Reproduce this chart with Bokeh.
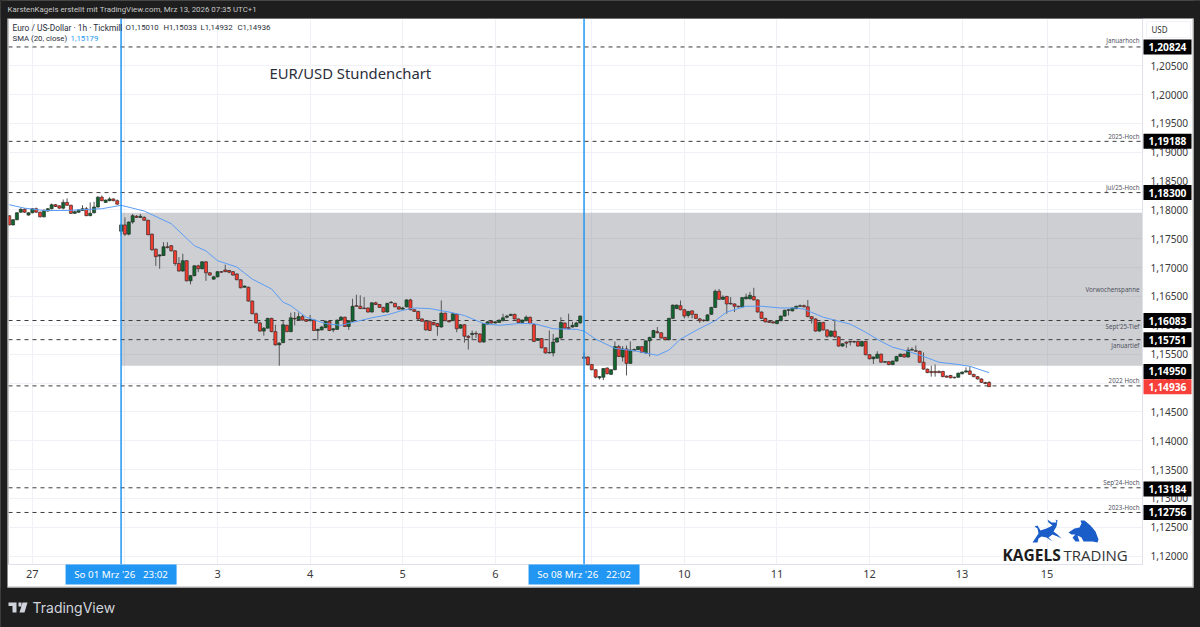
from bokeh.embed import file_html
from bokeh.resources import INLINE
from bokeh.plotting import figure
from bokeh.layouts import column
from bokeh.models import (Range1d, FixedTicker, Label, Span, GlobalInlineStyleSheet)

# ---------- data ----------
opens = [
 1.1790,1.1774,1.1783,1.1796,1.1801,1.1791,1.1795,1.1802,1.1796,1.1788,
 1.1798,1.1802,1.1809,1.1807,1.1803,1.1813,1.1808,1.1794,1.1796,1.1799,
 1.1802,1.1790,1.1795,1.1805,1.1822,1.1813,1.1816,1.1819,1.1816,1.1763,
 1.1774,1.1758,1.1779,1.1789,1.1787,1.1787,1.1782,1.1758,1.1732,1.1720,
 1.1721,1.1736,1.1738,1.1729,1.1707,1.1694,1.1712,1.1677,1.1686,1.1703,
 1.1698,1.1710,1.1691,1.1680,1.1684,1.1693,1.1696,1.1695,1.1693,1.1689,
 1.1679,1.1666,1.1666,1.1642,1.1620,1.1604,1.1590,1.1595,1.1612,1.1589,
 1.1566,1.1570,1.1600,1.1589,1.1612,1.1610,1.1615,1.1610,1.1608,1.1609,
 1.1591,1.1592,1.1596,1.1607,1.1592,1.1593,1.1609,1.1614,1.1598,1.1607,
 1.1634,1.1633,1.1630,1.1630,1.1623,1.1639,1.1636,1.1631,1.1623,1.1639,
 1.1638,1.1632,1.1628,1.1632,1.1644,1.1627,1.1624,1.1611,1.1607,1.1607,
 1.1605,1.1603,1.1597,1.1621,1.1608,1.1608,1.1619,1.1595,1.1601,1.1581,
 1.1584,1.1586,1.1585,1.1571,1.1602,1.1607,1.1604,1.1605,1.1608,1.1614,
 1.1617,1.1619,1.1611,1.1605,1.1608,1.1614,1.1601,1.1574,1.1577,1.1561,
 1.1552,1.1552,1.1571,1.1578,1.1604,1.1596,1.1597,1.1598,1.1604,1.1545,
 1.1545,1.1532,1.1523,1.1509,1.1510,1.1526,1.1515,1.1523,1.1563,1.1545,
 1.1559,1.1534,1.1556,1.1558,1.1563,1.1552,1.1573,1.1579,1.1589,1.1587,
 1.1579,1.1575,1.1612,1.1629,1.1634,1.1627,1.1617,1.1625,1.1619,1.1611,
 1.1609,1.1608,1.1619,1.1631,1.1659,1.1645,1.1650,1.1638,1.1637,1.1633,
 1.1632,1.1646,1.1646,1.1650,1.1644,1.1623,1.1612,1.1607,1.1606,1.1603,
 1.1608,1.1616,1.1626,1.1625,1.1629,1.1633,1.1634,1.1632,1.1615,1.1611,
 1.1590,1.1605,1.1592,1.1581,1.1590,1.1580,1.1564,1.1571,1.1572,1.1572,
 1.1572,1.1564,1.1572,1.1549,1.1542,1.1543,1.1550,1.1536,1.1537,1.1532,
 1.1538,1.1546,1.1550,1.1545,1.1557,1.1556,1.1555,1.1536,1.1524,1.1520,
 1.1520,1.1520,1.1520,1.1512,1.1513,1.1510,1.1510,1.1516,1.1519,1.1521,
 1.1515,1.1511,1.1507,1.1501,1.15010]
closes = [
 1.1774,1.1783,1.1795,1.1801,1.1796,1.1795,1.1802,1.1796,1.1788,1.1799,
 1.1802,1.1809,1.1806,1.1803,1.1813,1.1808,1.1794,1.1797,1.1800,1.1802,
 1.1790,1.1794,1.1805,1.1822,1.1816,1.1817,1.1819,1.1816,1.1810,1.1774,
 1.1758,1.1779,1.1790,1.1787,1.1789,1.1782,1.1757,1.1731,1.1719,1.1722,
 1.1736,1.1735,1.1729,1.1707,1.1694,1.1712,1.1677,1.1686,1.1703,1.1698,
 1.1710,1.1691,1.1687,1.1684,1.1693,1.1692,1.1693,1.1692,1.1687,1.1679,
 1.1665,1.1668,1.1642,1.1620,1.1604,1.1590,1.1595,1.1612,1.1589,1.1566,
 1.1569,1.1601,1.1589,1.1613,1.1611,1.1615,1.1609,1.1607,1.1610,1.1591,
 1.1593,1.1597,1.1607,1.1591,1.1594,1.1609,1.1614,1.1598,1.1608,1.1633,
 1.1633,1.1629,1.1629,1.1623,1.1639,1.1636,1.1631,1.1623,1.1638,1.1640,
 1.1632,1.1628,1.1630,1.1644,1.1627,1.1624,1.1611,1.1607,1.1592,1.1591,
 1.1601,1.1598,1.1621,1.1608,1.1606,1.1620,1.1594,1.1601,1.1581,1.1579,
 1.1586,1.1585,1.1571,1.1603,1.1606,1.1604,1.1606,1.1609,1.1613,1.1616,
 1.1619,1.1611,1.1605,1.1609,1.1614,1.1603,1.1572,1.1577,1.1561,1.1552,
 1.1553,1.1571,1.1578,1.1605,1.1595,1.1594,1.1600,1.1604,1.1616,1.1543,
 1.1532,1.1523,1.1510,1.1511,1.1525,1.1516,1.1523,1.1563,1.1546,1.1559,
 1.1534,1.1557,1.1558,1.1563,1.1553,1.1573,1.1579,1.1591,1.1587,1.1578,
 1.1575,1.1612,1.1635,1.1635,1.1627,1.1616,1.1624,1.1619,1.1612,1.1608,
 1.1608,1.1618,1.1631,1.1659,1.1645,1.1649,1.1637,1.1637,1.1633,1.1632,
 1.1648,1.1649,1.1652,1.1644,1.1623,1.1612,1.1606,1.1605,1.1604,1.1608,
 1.1616,1.1626,1.1627,1.1630,1.1633,1.1634,1.1632,1.1615,1.1611,1.1590,
 1.1605,1.1592,1.1581,1.1590,1.1580,1.1564,1.1568,1.1569,1.1571,1.1571,
 1.1564,1.1572,1.1549,1.1542,1.1545,1.1550,1.1536,1.1537,1.1532,1.1538,
 1.1546,1.1550,1.1545,1.1557,1.1558,1.1555,1.1536,1.1524,1.1518,1.1518,
 1.1518,1.1518,1.1511,1.1510,1.1509,1.1509,1.1517,1.1519,1.1521,1.1515,
 1.1511,1.1507,1.1501,1.1499,1.14936]
highs = [
 1.1791,1.1784,1.1796,1.1803,1.1803,1.1796,1.1803,1.1804,1.1797,1.1801,
 1.1803,1.1811,1.1810,1.1808,1.1818,1.1820,1.1809,1.1798,1.1801,1.1808,
 1.1805,1.1813,1.1814,1.1824,1.1825,1.1818,1.1822,1.1820,1.1818,1.1776,
 1.1787,1.1780,1.1793,1.1791,1.1793,1.1789,1.1783,1.1759,1.1733,1.1723,
 1.1744,1.1744,1.1739,1.1730,1.1718,1.1724,1.1713,1.1687,1.1704,1.1705,
 1.1711,1.1711,1.1692,1.1686,1.1694,1.1694,1.1705,1.1696,1.1694,1.1690,
 1.1680,1.1669,1.1667,1.1643,1.1622,1.1606,1.1597,1.1613,1.1613,1.1601,
 1.1571,1.1608,1.1601,1.1622,1.1623,1.1622,1.1618,1.1611,1.1618,1.1610,
 1.1594,1.1599,1.1608,1.1608,1.1595,1.1610,1.1616,1.1615,1.1609,1.1646,
 1.1653,1.1652,1.1649,1.1631,1.1640,1.1641,1.1637,1.1632,1.1639,1.1642,
 1.1639,1.1633,1.1632,1.1645,1.1646,1.1628,1.1625,1.1612,1.1608,1.1608,
 1.1606,1.1604,1.1643,1.1622,1.1609,1.1622,1.1620,1.1602,1.1602,1.1583,
 1.1591,1.1590,1.1586,1.1604,1.1607,1.1608,1.1607,1.1610,1.1620,1.1618,
 1.1620,1.1620,1.1612,1.1610,1.1617,1.1615,1.1602,1.1578,1.1578,1.1562,
 1.1591,1.1585,1.1579,1.1614,1.1605,1.1620,1.1606,1.1606,1.1617,1.1553,
 1.1546,1.1533,1.1524,1.1512,1.1526,1.1527,1.1524,1.1572,1.1566,1.1564,
 1.1565,1.1572,1.1560,1.1564,1.1564,1.1574,1.1580,1.1592,1.1597,1.1588,
 1.1580,1.1613,1.1636,1.1636,1.1643,1.1628,1.1625,1.1626,1.1620,1.1613,
 1.1610,1.1619,1.1632,1.1662,1.1663,1.1652,1.1651,1.1649,1.1638,1.1634,
 1.1649,1.1655,1.1658,1.1665,1.1645,1.1624,1.1613,1.1608,1.1607,1.1609,
 1.1617,1.1627,1.1628,1.1631,1.1634,1.1636,1.1636,1.1644,1.1616,1.1612,
 1.1606,1.1606,1.1593,1.1591,1.1610,1.1581,1.1569,1.1572,1.1573,1.1573,
 1.1573,1.1573,1.1573,1.1550,1.1546,1.1555,1.1551,1.1538,1.1538,1.1539,
 1.1547,1.1551,1.1551,1.1562,1.1562,1.1565,1.1556,1.1553,1.1525,1.1530,
 1.1532,1.1522,1.1521,1.1513,1.1514,1.1511,1.1518,1.1520,1.1527,1.1528,
 1.1516,1.1512,1.1508,1.1502,1.15033]
lows = [
 1.1773,1.1773,1.1782,1.1795,1.1795,1.1790,1.1794,1.1795,1.1787,1.1787,
 1.1797,1.1801,1.1805,1.1802,1.1801,1.1807,1.1793,1.1793,1.1795,1.1798,
 1.1789,1.1789,1.1794,1.1804,1.1815,1.1812,1.1815,1.1815,1.1809,1.1756,
 1.1755,1.1756,1.1776,1.1786,1.1786,1.1781,1.1756,1.1729,1.1703,1.1698,
 1.1720,1.1733,1.1728,1.1703,1.1693,1.1693,1.1676,1.1671,1.1685,1.1692,
 1.1697,1.1677,1.1686,1.1679,1.1683,1.1691,1.1692,1.1690,1.1686,1.1678,
 1.1664,1.1665,1.1641,1.1619,1.1603,1.1589,1.1582,1.1594,1.1588,1.1565,
 1.1530,1.1569,1.1588,1.1588,1.1600,1.1609,1.1608,1.1606,1.1607,1.1590,
 1.1574,1.1591,1.1595,1.1590,1.1588,1.1592,1.1608,1.1597,1.1592,1.1606,
 1.1632,1.1628,1.1628,1.1622,1.1622,1.1635,1.1630,1.1622,1.1622,1.1638,
 1.1631,1.1627,1.1627,1.1631,1.1626,1.1623,1.1609,1.1606,1.1591,1.1590,
 1.1600,1.1582,1.1596,1.1607,1.1605,1.1607,1.1588,1.1594,1.1570,1.1558,
 1.1574,1.1578,1.1570,1.1570,1.1601,1.1603,1.1603,1.1604,1.1607,1.1612,
 1.1616,1.1610,1.1604,1.1604,1.1607,1.1602,1.1571,1.1573,1.1560,1.1551,
 1.1551,1.1546,1.1570,1.1577,1.1594,1.1593,1.1596,1.1597,1.1603,1.1542,
 1.1530,1.1522,1.1508,1.1506,1.1505,1.1515,1.1514,1.1522,1.1545,1.1537,
 1.1513,1.1533,1.1555,1.1557,1.1552,1.1551,1.1546,1.1578,1.1586,1.1577,
 1.1574,1.1574,1.1611,1.1628,1.1626,1.1612,1.1613,1.1612,1.1611,1.1604,
 1.1606,1.1607,1.1618,1.1630,1.1644,1.1644,1.1620,1.1636,1.1623,1.1631,
 1.1631,1.1645,1.1645,1.1643,1.1622,1.1611,1.1605,1.1604,1.1603,1.1602,
 1.1607,1.1615,1.1617,1.1624,1.1628,1.1632,1.1631,1.1614,1.1603,1.1589,
 1.1589,1.1591,1.1578,1.1580,1.1578,1.1563,1.1563,1.1561,1.1565,1.1569,
 1.1563,1.1563,1.1548,1.1541,1.1533,1.1542,1.1535,1.1535,1.1531,1.1531,
 1.1537,1.1545,1.1544,1.1544,1.1556,1.1554,1.1535,1.1523,1.1517,1.1511,
 1.1511,1.1517,1.1510,1.1509,1.1508,1.1508,1.1509,1.1515,1.1518,1.1514,
 1.1510,1.1506,1.1500,1.1498,1.14932]

sma_bars = [0,4,9,15,24,29,35,42,48,51,54,59,63,68,71,73,77,82,86,89,94,98,102,105,109,114,118,
            123,127,132,136,141,147,149,152,157,162,168,171,174,178,183,186,191,195,200,204,
            206,211,218,222,226,229,233,237,241,246,249,254]
sma_vals = [1.1809,1.1803,1.1799,1.1799,1.1802,1.1808,1.1798,1.1776,1.1738,1.1729,1.1712,1.1701,
            1.1680,1.1663,1.1640,1.1634,1.1614,1.1603,1.1600,1.1605,1.1613,1.1618,1.1626,1.1630,
            1.1629,1.1623,1.1617,1.1603,1.1600,1.1603,1.1603,1.1594,1.1593,1.1590,1.1576,1.1560,
            1.1556,1.1548,1.1557,1.1576,1.1591,1.1608,1.1623,1.1633,1.1633,1.1630,1.1630,
            1.1628,1.1614,1.1602,1.1588,1.1572,1.1562,1.1555,1.1546,1.1536,1.1532,1.1529,1.15179]

day_ticks = [6, 30, 54, 78, 102, 126, 151, 175, 199, 223, 247, 269]
day_labels = ["27", "", "3", "4", "5", "6", "", "10", "11", "12", "13", "15"]
session_bars = [29, 149]
session_labels = ["So 01 Mrz '26\u00a0\u00a0\u00a023:02", "So 08 Mrz '26\u00a0\u00a0\u00a022:02"]

price_ticks = [1.205,1.20,1.195,1.19,1.185,1.18,1.175,1.17,1.165,1.16,1.155,1.15,1.145,1.14,1.135,1.13,1.125,1.12]

level_vals = [1.20824, 1.19188, 1.18300, 1.16083, 1.15751, 1.14950, 1.13184, 1.12756]
level_names = ["Januarhoch", "2025-Hoch", "Jul/25-Hoch", "Sept'25-Tief", "Januartief", "2022 Hoch", "Sep'24-Hoch", "2023-Hoch"]
level_tags = ["1,20824", "1,19188", "1,18300", "1,16083", "1,15751", "1,14950", "1,13184", "1,12756"]
range_top, range_bottom = 1.1795, 1.1530

# ---------- geometry (page px <-> data) ----------
BAR_PX = 3.858
PX_PER_UNIT = 5770.0
FL, FR, FT, FB = 8, 1142, 18, 564
x_lo = (FL - 8.7) / BAR_PX
x_hi = (FR - 8.7) / BAR_PX
y_hi = 1.20 + (94 - FT) / PX_PER_UNIT
y_lo = 1.20 - (FB - 94) / PX_PER_UNIT
def px(x): return x_lo + (x - FL) / BAR_PX
def py(y): return y_hi - (y - FT) / PX_PER_UNIT

DARK = "#1e1e1e"
BLUE = "#2196f3"
TXT = "#2a2e39"
FONT = "Noto Sans"
SMALL = "Roboto"

p = figure(width=1200, height=627, frame_width=FR - FL, frame_height=FB - FT,
           x_range=Range1d(x_lo, x_hi), y_range=Range1d(y_lo, y_hi),
           y_axis_location="right", output_backend="svg", toolbar_location=None,
           min_border_left=FL, min_border_right=1200 - FR, min_border_top=FT,
           min_border_bottom=627 - FB, border_fill_color="white",
           background_fill_color="white", outline_line_color=None, frame_align=False)

p.xgrid.ticker = FixedTicker(ticks=day_ticks)
p.ygrid.ticker = FixedTicker(ticks=price_ticks)
p.xgrid.grid_line_color = "#eff1f6"
p.ygrid.grid_line_color = "#eff1f6"

ax = p.xaxis[0]
ax.ticker = FixedTicker(ticks=day_ticks)
ax.major_label_overrides = dict(zip(day_ticks, day_labels))
ax.major_tick_line_color = None
ax.minor_tick_line_color = None
ax.major_tick_out = 0
ax.major_tick_in = 0
ax.axis_line_color = "#dfe2ea"
ax.major_label_standoff = 5
ax.major_label_text_font = FONT
ax.major_label_text_font_size = "11px"
ax.major_label_text_color = "#3a3a3a"

ay = p.yaxis[0]
ay.ticker = FixedTicker(ticks=price_ticks)
ay.major_label_overrides = {t: f"{t:.5f}".replace(".", ",") for t in price_ticks}
ay.major_tick_line_color = None
ay.minor_tick_line_color = None
ay.major_tick_out = 0
ay.major_tick_in = 0
ay.axis_line_color = "#dfe2ea"
ay.major_label_standoff = 8
ay.major_label_text_font = FONT
ay.major_label_text_font_size = "10.2px"
ay.major_label_text_color = "#3a3a3a"
ay.major_label_text_baseline = "middle"

# previous-week range
p.quad(left=session_bars[0], right=x_hi, top=range_top, bottom=range_bottom,
       fill_color="#787b86", fill_alpha=0.36, line_color=None)

# levels
p.segment(x0=[x_lo] * len(level_vals), x1=[x_hi] * len(level_vals), y0=level_vals, y1=level_vals,
          line_color="#3c3c3c", line_width=1, line_dash="4 4")

# candles
idx = list(range(len(opens)))
up = [c >= o for o, c in zip(opens, closes)]
p.segment(x0=idx, x1=idx, y0=lows, y1=highs, line_color="#555555", line_width=1)
for flag, col in [(True, "#12662f"), (False, "#f23a2e")]:
    sel = [i for i in idx if up[i] == flag]
    p.vbar(x=sel, width=0.8, bottom=[min(opens[i], closes[i]) for i in sel],
           top=[max(opens[i], closes[i]) for i in sel],
           fill_color=col, line_color="#222222", line_width=0.6)

# SMA
p.line(sma_bars, sma_vals, line_color="#5b9cf6", line_width=1)

# session lines
for b in session_bars:
    p.add_layout(Span(location=b, dimension="height", line_color=BLUE, line_width=1.5))

# ---------- overlay canvas: same scales, but its plot area is the whole window ----------
ov = figure(width=1200, height=627, x_range=Range1d(px(0), px(1200)), y_range=Range1d(py(627), py(0)),
            x_axis_location=None, y_axis_location=None, output_backend="svg", toolbar_location=None,
            min_border=0, background_fill_alpha=0, border_fill_alpha=0, outline_line_color=None,
            css_classes=["ovl"], frame_align=False,
            styles={"position": "absolute", "left": "0", "top": "0"})
ov.grid.visible = False

def box(l, r, t, b, fill, line=None):
    ov.quad(left=px(l), right=px(r), top=py(t), bottom=py(b), fill_color=fill, line_color=line)

def text(x, y, s, size, color=TXT, align="left", font=FONT, style="normal"):
    ov.add_layout(Label(x=px(x), y=py(y), text=s, text_font=font, text_font_size=f"{size}px",
                        text_color=color, text_align=align, text_baseline="middle",
                        text_font_style=style))

# dark frame around the chart panel
box(0, 1200, 0, 18, DARK)
box(0, 7, 0, 627, DARK)
box(1193, 1200, 0, 627, DARK)
box(0, 1200, 587, 627, DARK)
box(7, 1193, 586, 587, "#b8b8b8")
box(1192, 1193, 18, 587, "#b8b8b8")

# session labels on the time scale
for b, s in zip(session_bars, session_labels):
    c = 8.7 + b * BAR_PX
    box(c - 55.5, c + 55.5, 564, 584, BLUE)
    text(c, 574, s, 9.8, "white", "center")

# level captions
offs = [-6, -5, -5, 6, 6, -5, -5, -5]
for v, n, o in zip(level_vals, level_names, offs):
    y = 94 + (1.20 - v) * PX_PER_UNIT + o
    text(1139, y, n, 6.2, "#50535e", "right")
text(1139, 289, "Vorwochenspanne", 6.2, "#50535e", "right")

# price tags
tag_pos = [1.20824, 1.19188, 1.18300, 1.16083, 1.15751, 1.1520, 1.13165, 1.12756]
for pos, s in zip(tag_pos, level_tags):
    cy = 94 + (1.20 - pos) * PX_PER_UNIT
    box(1143, 1191, cy - 7.5, cy + 7.5, "#000000")
    text(1167, cy, s, 10.2, "white", "center", style="bold")
last_cy = 94 + (1.20 - closes[-1]) * PX_PER_UNIT
box(1143, 1191, last_cy - 7.5, last_cy + 7.5, "#f7403a")
text(1167, last_cy, f"{closes[-1]:.5f}".replace(".", ","), 10.2, "white", "center", style="bold")

# USD box
box(1146, 1190, 21, 37, "#ffffff", "#f0f3fa")
text(1151, 29, "USD", 8, "#333333")

# texts
text(7, 9, "KarstenKagels erstellt mit TradingView.com, Mrz 13, 2026 07:35 UTC+1", 7.9, "#c8c8c8", font=SMALL)
text(12, 27, "Euro / US-Dollar · 1h · Tickmill", 8.4, TXT, font=SMALL)
for x, s in [(125, "O1,15010"), (163, "H1,15033"), (200, "L1,14932"), (237, "C1,14936")]:
    text(x, 27, s, 7.8, TXT, font=SMALL)
text(12, 38, "SMA (20, close)", 7.8, TXT, font=SMALL)
text(70, 38, "1,15179", 7.8, BLUE, font=SMALL)
text(269, 72.5, "EUR/USD Stundenchart", 14.8, TXT)

# KAGELS TRADING logo
text(1002, 554, "KAGELS", 15.5, "#1c1c1c", style="bold", font="Open Sans")
text(1063, 554, "TRADING", 15, "#333333", font="Open Sans")
bull_xs = [1032,1038,1037,1034,1037,1040,1046,1052,1048,1047,1051,1056,1055,1057,1056,1053,1057,1061,1057,1052,1048,1052,1046,1041,1038,1037]
bull_ys = [542,533,528,526,525,530,528,525,522,519,522,522,519,520,526,531,534,538,536,534,537,541,537,536,538,542]
bear_xs = [1068,1074,1079,1081,1080,1084,1090,1095,1098,1097,1092,1087,1083,1081,1077,1079,1075,1072,1075,1071]
bear_ys = [532,528,527,523,520,520,525,531,539,542,541,541,541,537,535,541,541,537,534,534]
ov.patch([px(v) for v in bull_xs], [py(v) for v in bull_ys], fill_color="#1a5cc8", line_color=None)
ov.patch([px(v) for v in bear_xs], [py(v) for v in bear_ys], fill_color="#1a5cc8", line_color=None)

# TradingView logo
text(32, 607, "TradingView", 14, "#d1d4dc", font="Inter")
box(8, 16, 602, 605.5, "#d1d4dc")
box(12, 16, 605.5, 612, "#d1d4dc")
box(18, 21, 602, 606, "#d1d4dc")
ov.patch([px(v) for v in [22, 27, 24, 19]], [py(v) for v in [602, 602, 612, 612]], fill_color="#d1d4dc", line_color=None)

page = column(p, ov, width=1200, height=627, stylesheets=[".ovl{position:absolute !important;left:0;top:0;}"])
page.stylesheets = list(page.stylesheets) + [GlobalInlineStyleSheet(css="html,body{background:#1e1e1e;}")]
open("out.html", "w").write(file_html(page, INLINE))
